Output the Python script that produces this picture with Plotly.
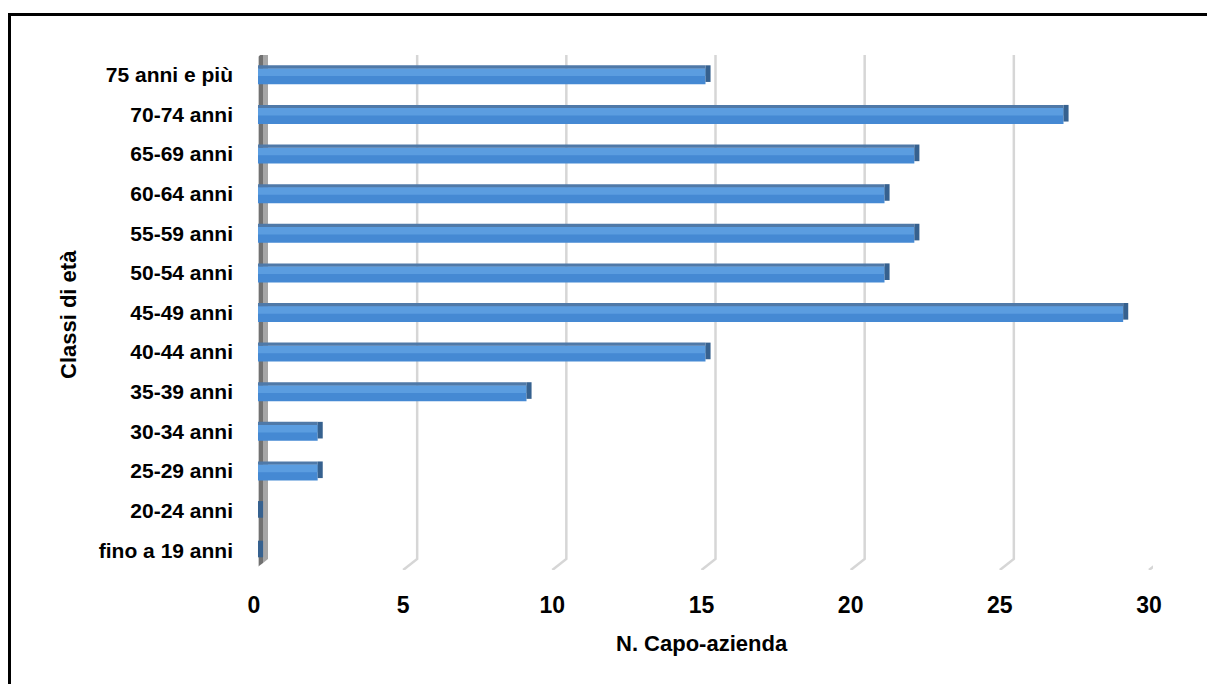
import plotly.graph_objects as go

# Age classes of farm holders (bottom to top) and their counts
classi = ["fino a 19 anni", "20-24 anni", "25-29 anni", "30-34 anni", "35-39 anni",
          "40-44 anni", "45-49 anni", "50-54 anni", "55-59 anni", "60-64 anni",
          "65-69 anni", "70-74 anni", "75 anni e più"]
capi_azienda = [0, 0, 2, 2, 9, 15, 29, 21, 22, 21, 22, 27, 15]
x_ticks = [0, 5, 10, 15, 20, 25, 30]

W, H = 1207, 684
FONT = "Liberation Sans, Arial, sans-serif"

# plot area in pixels
px_left, px_right = 258, 1153
px_top, px_bottom = 55, 570
ypos = list(range(len(classi)))

fig = go.Figure()

# front face of the bars
fig.add_trace(go.Bar(
    y=ypos, x=capi_azienda, orientation="h",
    width=0.40, offset=-0.24,
    marker=dict(color="#4589d3", line=dict(width=0)),
    hoverinfo="x+y", showlegend=False,
))
# lighter upper half of the front face
fig.add_trace(go.Bar(
    y=ypos, x=capi_azienda, orientation="h",
    width=0.19, offset=-0.03,
    marker=dict(color="#5b9de0", line=dict(width=0)),
    hoverinfo="skip", showlegend=False,
))
# top face
fig.add_trace(go.Bar(
    y=ypos, x=capi_azienda, orientation="h",
    width=0.08, offset=0.16,
    marker=dict(color="#4f79a8", line=dict(width=0)),
    hoverinfo="skip", showlegend=False,
))
# right side face
fig.add_trace(go.Bar(
    y=ypos, x=[0.17] * len(capi_azienda), base=capi_azienda, orientation="h",
    width=0.42, offset=-0.18,
    marker=dict(color="#36618f", line=dict(width=0)),
    hoverinfo="skip", showlegend=False,
))

shapes = []
# back-wall gridlines with their floor diagonals
for v in x_ticks[1:]:
    shapes.append(dict(
        type="path", xref="x", yref="y", xsizemode="pixel", ysizemode="pixel",
        xanchor=v, yanchor=-0.5,
        path="M-4,0 L10,11 L10,522",
        line=dict(color="#d6d6d6", width=2.5), layer="below",
    ))
# side wall at x = 0
wall = [("M-4,0 L-4,510 L1,514 L1,4 Z", "#cdcdcd"),
        ("M1,4 L1,514 L5,517 L5,7 Z", "#717171"),
        ("M5,7 L5,517 L10,521 L10,11 Z", "#a6a6a6")]
for p, c in wall:
    shapes.append(dict(
        type="path", xref="x", yref="y", xsizemode="pixel", ysizemode="pixel",
        xanchor=0, yanchor=-0.5, path=p,
        fillcolor=c, line=dict(width=0), layer="below",
    ))
# outer frame
shapes.append(dict(
    type="rect", xref="paper", yref="paper",
    x0=9.5 / W, x1=1.05, y0=-0.05, y1=1 - 14.5 / H,
    line=dict(color="black", width=3), fillcolor="rgba(0,0,0,0)",
))

fig.update_layout(
    width=W, height=H,
    margin=dict(l=0, r=0, t=0, b=0, autoexpand=False),
    paper_bgcolor="white", plot_bgcolor="white",
    barmode="overlay",
    font=dict(family=FONT, size=21, color="black"),
    shapes=shapes,
    xaxis=dict(
        domain=[px_left / W, px_right / W], automargin=False,
        range=[0, 30], tickvals=x_ticks, ticktext=[str(t) for t in x_ticks],
        showgrid=False, zeroline=False, showline=False, ticks="",
        tickfont=dict(family=FONT, size=23, color="black", weight="bold"),
        ticklabelstandoff=19, ticklabelshift=-4,
    ),
    yaxis=dict(
        domain=[1 - px_bottom / H, 1 - px_top / H], automargin=False,
        range=[-0.5, len(classi) - 0.5],
        tickvals=ypos, ticktext=classi,
        showgrid=False, zeroline=False, showline=False, ticks="",
        tickfont=dict(family=FONT, size=21, color="black", weight="bold"),
        ticklabelstandoff=24,
    ),
    annotations=[
        dict(text="<b>N. Capo-azienda</b>", xref="paper", yref="paper",
             x=702 / W, y=1 - 643 / H, xanchor="center", yanchor="middle",
             showarrow=False, font=dict(family=FONT, size=22, color="black")),
        dict(text="<b>Classi di età</b>", xref="paper", yref="paper",
             x=68 / W, y=1 - 315 / H, xanchor="center", yanchor="middle",
             showarrow=False, textangle=-90,
             font=dict(family=FONT, size=22, color="black")),
    ],
)

fig.write_html("out.html")
